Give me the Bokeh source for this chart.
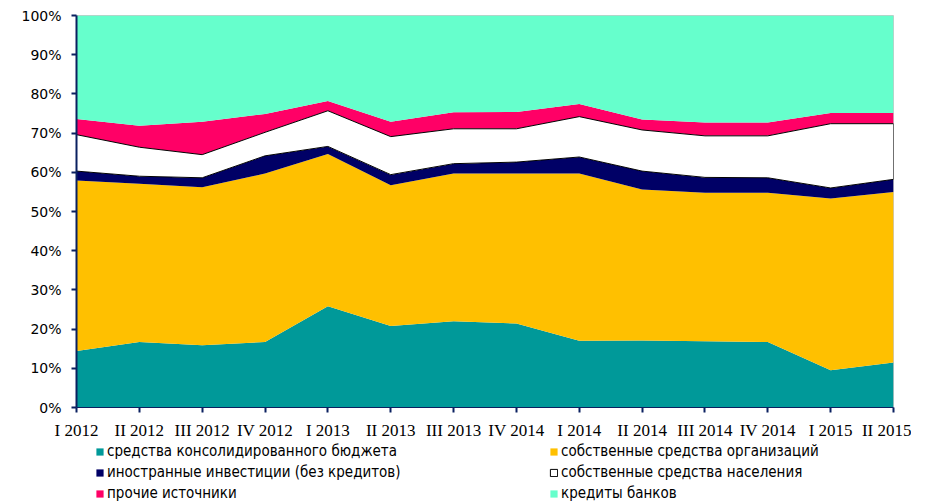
from bokeh.plotting import figure
from bokeh.layouts import column
from bokeh.models import (ColumnDataSource, Range1d, FixedTicker, PrintfTickFormatter,
                          Legend, LegendItem)
from bokeh.embed import file_html
from bokeh.resources import INLINE

periods = ["I 2012", "II 2012", "III 2012", "IV 2012", "I 2013", "II 2013", "III 2013",
           "IV 2014", "I 2014", "II 2014", "III 2014", "IV 2014", "I 2015", "II 2015"]

budget     = [14.4, 16.7, 15.9, 16.7, 25.8, 20.8, 22.0, 21.4, 17.0, 17.1, 16.9, 16.7, 9.5, 11.5]
own_org    = [43.5, 40.4, 40.3, 43.0, 38.9, 35.9, 37.7, 38.3, 42.7, 38.5, 37.9, 38.1, 43.8, 43.5]
foreign    = [2.4, 1.9, 2.4, 4.5, 1.9, 2.7, 2.5, 2.9, 4.2, 4.7, 3.9, 3.8, 2.7, 3.2]
population = [9.3, 7.4, 5.9, 6.0, 9.1, 9.7, 8.9, 8.5, 10.3, 10.5, 10.6, 10.7, 16.4, 14.2]
other      = [4.0, 5.5, 8.4, 4.7, 2.5, 3.8, 4.2, 4.3, 3.2, 2.7, 3.4, 3.4, 2.7, 2.7]
bank       = [26.4, 28.1, 27.1, 25.1, 21.8, 27.1, 24.7, 24.6, 22.6, 26.5, 27.3, 27.3, 24.9, 24.9]

names = ["средства консолидированного бюджета", "собственные средства организаций",
         "иностранные инвестиции (без кредитов)", "собственные средства населения",
         "прочие источники", "кредиты банков"]
keys = ["budget", "own_org", "foreign", "population", "other", "bank"]
colors = ["#009999", "#FFC000", "#000066", "#FFFFFF", "#FF0066", "#66FFCC"]

x = list(range(len(periods)))
source = ColumnDataSource(dict(x=x, budget=budget, own_org=own_org, foreign=foreign,
                               population=population, other=other, bank=bank))

# white series boundaries (for its black outline)
lower = [a + b + c for a, b, c in zip(budget, own_org, foreign)]
upper = [l + v for l, v in zip(lower, population)]

p = figure(width=911, height=442, output_backend="svg", toolbar_location=None,
           x_range=Range1d(0, len(periods) - 1), y_range=Range1d(0, 100),
           min_border_left=76, min_border_right=18, min_border_top=15, min_border_bottom=33)
p.outline_line_color = "#C8C8C8"
p.xgrid.visible = False
p.ygrid.visible = False

rs = p.varea_stack(stackers=keys, x="x", color=colors, source=source)
wr = p.patch(x + x[::-1], upper + lower[::-1], fill_color="#FFFFFF",
             line_color="#000000", line_width=1)

# axes
ax = p.xaxis[0]
ax.ticker = FixedTicker(ticks=x)
ax.major_label_overrides = {i: lab for i, lab in enumerate(periods)}
ax.major_label_text_font = "Liberation Serif"
ax.major_label_text_font_size = "17px"
ax.major_label_text_color = "#000000"
ax.axis_line_color = "#0A2060"
ax.axis_line_width = 1
ax.major_tick_line_color = "#0A2060"
ax.major_tick_line_width = 2
ax.major_tick_out = 5
ax.major_tick_in = 0
ax.minor_tick_line_color = None
ax.major_label_standoff = 8

ay = p.yaxis[0]
ay.ticker = FixedTicker(ticks=list(range(0, 101, 10)))
ay.formatter = PrintfTickFormatter(format="%d%%")
ay.major_label_text_font = "DejaVu Sans"
ay.major_label_text_font_size = "14px"
ay.major_label_text_color = "#000000"
ay.axis_line_color = "#0A2060"
ay.axis_line_width = 2
ay.major_tick_line_color = "#0A2060"
ay.major_tick_line_width = 2
ay.major_tick_out = 5
ay.major_tick_in = 0
ay.minor_tick_line_color = None
ay.major_label_standoff = 10

# legend strip below the chart: same series drawn outside its visible range,
# so only the legend shows
lf = figure(width=911, height=59, output_backend="svg", toolbar_location=None,
            x_range=Range1d(-100, -99), y_range=Range1d(-100, -99), min_border=0)
lf.axis.visible = False
lf.grid.visible = False
lf.outline_line_color = None
proxies = list(lf.varea_stack(stackers=keys, x="x", color=colors, source=source))
proxies[3] = lf.patch(x + x[::-1], upper + lower[::-1], fill_color="#FFFFFF",
                      line_color="#000000", line_width=1)

order = [0, 2, 4, 1, 3, 5]
items = [LegendItem(label=names[i], renderers=[proxies[i]]) for i in order]
legend = Legend(items=items, location=(19, -1), orientation="vertical", ncols=2,
                glyph_width=9, glyph_height=9, label_standoff=3, label_width=439,
                label_height=18, spacing=3, padding=0, margin=0,
                border_line_alpha=0, background_fill_alpha=0,
                label_text_font="DejaVu Sans Condensed", label_text_font_size="15px",
                label_text_color="#000000")
lf.add_layout(legend, "center")

layout = column(p, lf, spacing=0)
open("out.html", "w").write(file_html(layout, INLINE))
